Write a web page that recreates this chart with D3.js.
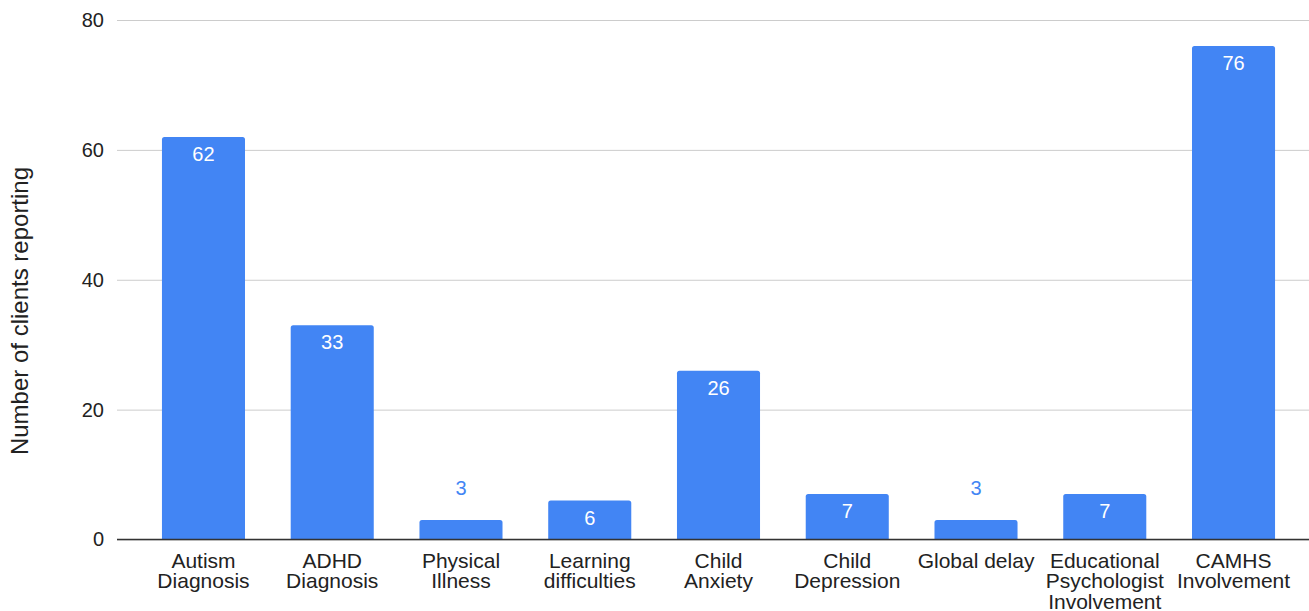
<!DOCTYPE html>
<html>
<head>
<meta charset="utf-8">
<script src="https://cdn.jsdelivr.net/npm/d3@7"></script>
<style>
  html, body { margin: 0; padding: 0; background: #fff; }
  svg { display: block; font-family: "Liberation Sans", Arial, sans-serif; }
</style>
</head>
<body>
<svg id="chart" width="1309" height="611"></svg>
<script>
// Categories (line breaks mark where each axis label wraps)
const categories = [
  "Autism\nDiagnosis",
  "ADHD\nDiagnosis",
  "Physical\nIllness",
  "Learning\ndifficulties",
  "Child\nAnxiety",
  "Child\nDepression",
  "Global delay",
  "Educational\nPsychologist\nInvolvement",
  "CAMHS\nInvolvement"
];
const clientCounts = [62, 33, 3, 6, 26, 7, 3, 7, 76];
const yTicks = [0, 20, 40, 60, 80];
const yTitle = "Number of clients reporting";

const FONT = "'Liberation Sans', Arial, sans-serif";
const svg = d3.select("#chart");
const gridLeft = 117, gridRight = 1309;
const plotTop = 20, plotBottom = 539.5;
const barColor = "#4285f4";
const textColor = "#222";

const x = d3.scaleBand()
  .domain(categories)
  .range([139.1, 1297.9])
  .paddingInner(0.355)
  .paddingOuter(0.1775);

const y = d3.scaleLinear()
  .domain([0, 80])
  .range([plotBottom, plotTop]);

// Horizontal gridlines and y tick labels
const yAxis = d3.axisLeft(y)
  .tickValues(yTicks)
  .tickSize(-(gridRight - gridLeft))
  .tickPadding(13)
  .tickFormat(d3.format("d"));

const gy = svg.append("g")
  .attr("transform", `translate(${gridLeft},0)`)
  .call(yAxis);
gy.select(".domain").remove();
gy.selectAll(".tick line")
  .attr("stroke", "#ccc")
  .attr("stroke-width", 1);
gy.selectAll(".tick text")
  .attr("fill", textColor)
  .attr("font-size", 20)
  .attr("font-family", FONT);

// Bars with slightly rounded top corners
const r = 2.5;
function barPath(x0, w, yTop, yBase) {
  const h = yBase - yTop;
  const rr = Math.min(r, h / 2);
  return `M${x0},${yBase}V${yTop + rr}Q${x0},${yTop} ${x0 + rr},${yTop}` +
         `H${x0 + w - rr}Q${x0 + w},${yTop} ${x0 + w},${yTop + rr}V${yBase}Z`;
}

const data = categories.map((c, i) => ({ cat: c, value: clientCounts[i] }));

svg.append("g").selectAll("path")
  .data(data)
  .join("path")
  .attr("d", d => barPath(x(d.cat), x.bandwidth(), y(d.value), y(0)))
  .attr("fill", barColor);

// Baseline drawn over bars
svg.append("line")
  .attr("x1", gridLeft).attr("x2", gridRight)
  .attr("y1", y(0)).attr("y2", y(0))
  .attr("stroke", "#333").attr("stroke-width", 1.5);

// Value labels: inside tall bars, above short ones
const fitsInside = d => y(0) - y(d.value) > 28;
svg.append("g").selectAll("text")
  .data(data)
  .join("text")
  .attr("x", d => x(d.cat) + x.bandwidth() / 2)
  .attr("y", d => fitsInside(d) ? y(d.value) + 24 : y(d.value) - 25)
  .attr("text-anchor", "middle")
  .attr("font-size", 20)
  .attr("font-family", FONT)
  .attr("fill", d => fitsInside(d) ? "#fff" : barColor)
  .text(d => d.value);

// Category labels
svg.append("g").selectAll("text")
  .data(categories)
  .join("text")
  .attr("text-anchor", "middle")
  .attr("font-size", 21)
  .attr("font-family", FONT)
  .attr("fill", textColor)
  .attr("transform", d => `translate(${x(d) + x.bandwidth() / 2},${y(0) + 28})`)
  .each(function(d) {
    const t = d3.select(this);
    d.split("\n").forEach((line, i) => {
      t.append("tspan")
        .attr("x", 0)
        .attr("dy", i === 0 ? 0 : 20.7)
        .text(line);
    });
  });

// Y axis title
svg.append("text")
  .attr("transform", "translate(28,311) rotate(-90)")
  .attr("text-anchor", "middle")
  .attr("font-size", 24)
  .attr("font-family", FONT)
  .attr("fill", textColor)
  .text(yTitle);
</script>
</body>
</html>
